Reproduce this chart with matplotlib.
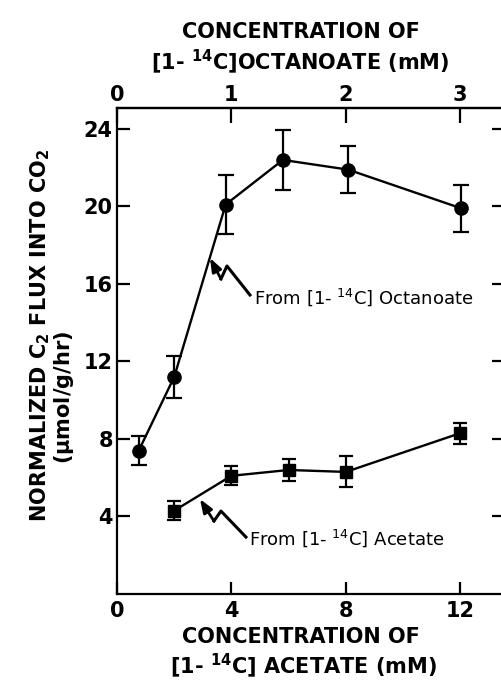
import numpy as np
import matplotlib
matplotlib.use('Agg')
import matplotlib.pyplot as plt
import matplotlib.transforms as mtransforms

plt.rcParams['font.family'] = ['DejaVu Sans']
plt.rcParams['mathtext.default'] = 'regular'

# octanoate series (top axis, mM octanoate)
oct_conc = [0.19, 0.5, 0.95, 1.45, 2.02, 3.01]
oct_flux = [7.4, 11.2, 20.1, 22.4, 21.9, 19.9]
oct_err = [0.75, 1.1, 1.5, 1.55, 1.2, 1.2]

# acetate series (bottom axis, mM acetate)
ace_conc = [2, 4, 6, 8, 12]
ace_flux = [4.3, 6.1, 6.4, 6.3, 8.3]
ace_err = [0.5, 0.5, 0.55, 0.8, 0.55]

bottom_ticks = [0, 4, 8, 12]
top_ticks = [0, 1, 2, 3]
y_ticks = [4, 8, 12, 16, 20, 24]

W, H = 501, 682
fig = plt.figure(figsize=(W / 100, H / 100), dpi=100)
ax = fig.add_axes([117 / W, (H - 594) / H, (504 - 117) / W, (594 - 108) / H])

# octanoate plotted on acetate scale: 1 mM octanoate <-> 4 mM acetate
oct_x = [c * 4 for c in oct_conc]
ax.errorbar(oct_x, oct_flux, yerr=oct_err, fmt='-o', color='black', ms=9.5,
            lw=1.7, elinewidth=1.6, capsize=5.5, capthick=1.6)
ax.errorbar(ace_conc, ace_flux, yerr=ace_err, fmt='-s', color='black', ms=8.5,
            lw=1.7, elinewidth=1.6, capsize=5, capthick=1.6)

ax.set_xlim(0, 13.53)
ax.set_ylim(0, 25.08)
ax.set_xticks(bottom_ticks)
ax.set_yticks(y_ticks)
for s in ax.spines.values():
    s.set_linewidth(1.6)
ax.tick_params(direction='in', length=9, width=1.6, labelsize=15, pad=5,
               right=True)
ax.tick_params(axis='y', pad=3)
for lab in ax.get_xticklabels() + ax.get_yticklabels():
    lab.set_fontweight('bold')

top = ax.secondary_xaxis('top', functions=(lambda x: x / 4, lambda x: x * 4))
top.set_xticks(top_ticks)
top.tick_params(direction='in', length=11, width=1.6, labelsize=15, pad=2)
top.spines['top'].set_linewidth(1.6)
for lab in top.get_xticklabels():
    lab.set_fontweight('bold')

# labels
lbl = dict(fontsize=15, fontweight='bold', ha='center', va='center')
fig.text(301 / W, 1 - 32 / H, 'CONCENTRATION OF', **lbl)
fig.text(300 / W, 1 - 62 / H, r'[1- $^{14}$C]OCTANOATE (mM)', **lbl)
fig.text(301 / W, 1 - 637 / H, 'CONCENTRATION OF', **lbl)
fig.text(303 / W, 1 - 666 / H, r'[1- $^{14}$C] ACETATE (mM)', **lbl)
fig.text(40 / W, 1 - 335 / H, r'NORMALIZED C$_2$ FLUX INTO CO$_2$',
         rotation=90, **lbl)
fig.text(64 / W, 1 - 397 / H, r'($\mu$mol/g/hr)', rotation=90, **lbl)

# squiggle arrows with their labels
notes = [((3.25, 17.34), r'From [1- $^{14}$C] Octanoate', (11, 21), (17, 8), (40, 37), (44, 39)),
         ((2.9, 4.9), r'From [1- $^{14}$C] Acetate', (14, 22), (21, 12), (46, 38), (49, 39))]
for tip, txt, p1, p2, p3, tpos in notes:
    tx, ty = ax.transData.transform(tip)
    pts = np.array([(0, 0), p1, p2, p3], dtype=float)
    pts[:, 1] *= -1
    pts += (tx, ty)
    ax.plot(pts[1:, 0], pts[1:, 1], color='black', lw=2.2,
            transform=mtransforms.IdentityTransform(), clip_on=False)
    ax.annotate('', xy=tip, xytext=(p1[0], -p1[1]), textcoords='offset pixels',
                arrowprops=dict(arrowstyle='-|>,head_length=0.8,head_width=0.3',
                                color='black', lw=2, shrinkA=0, shrinkB=0))
    ax.annotate(txt, xy=tip, xytext=(tpos[0], -tpos[1]), textcoords='offset pixels',
                ha='left', va='center', fontsize=13)

fig.savefig('out.png', dpi=100)
